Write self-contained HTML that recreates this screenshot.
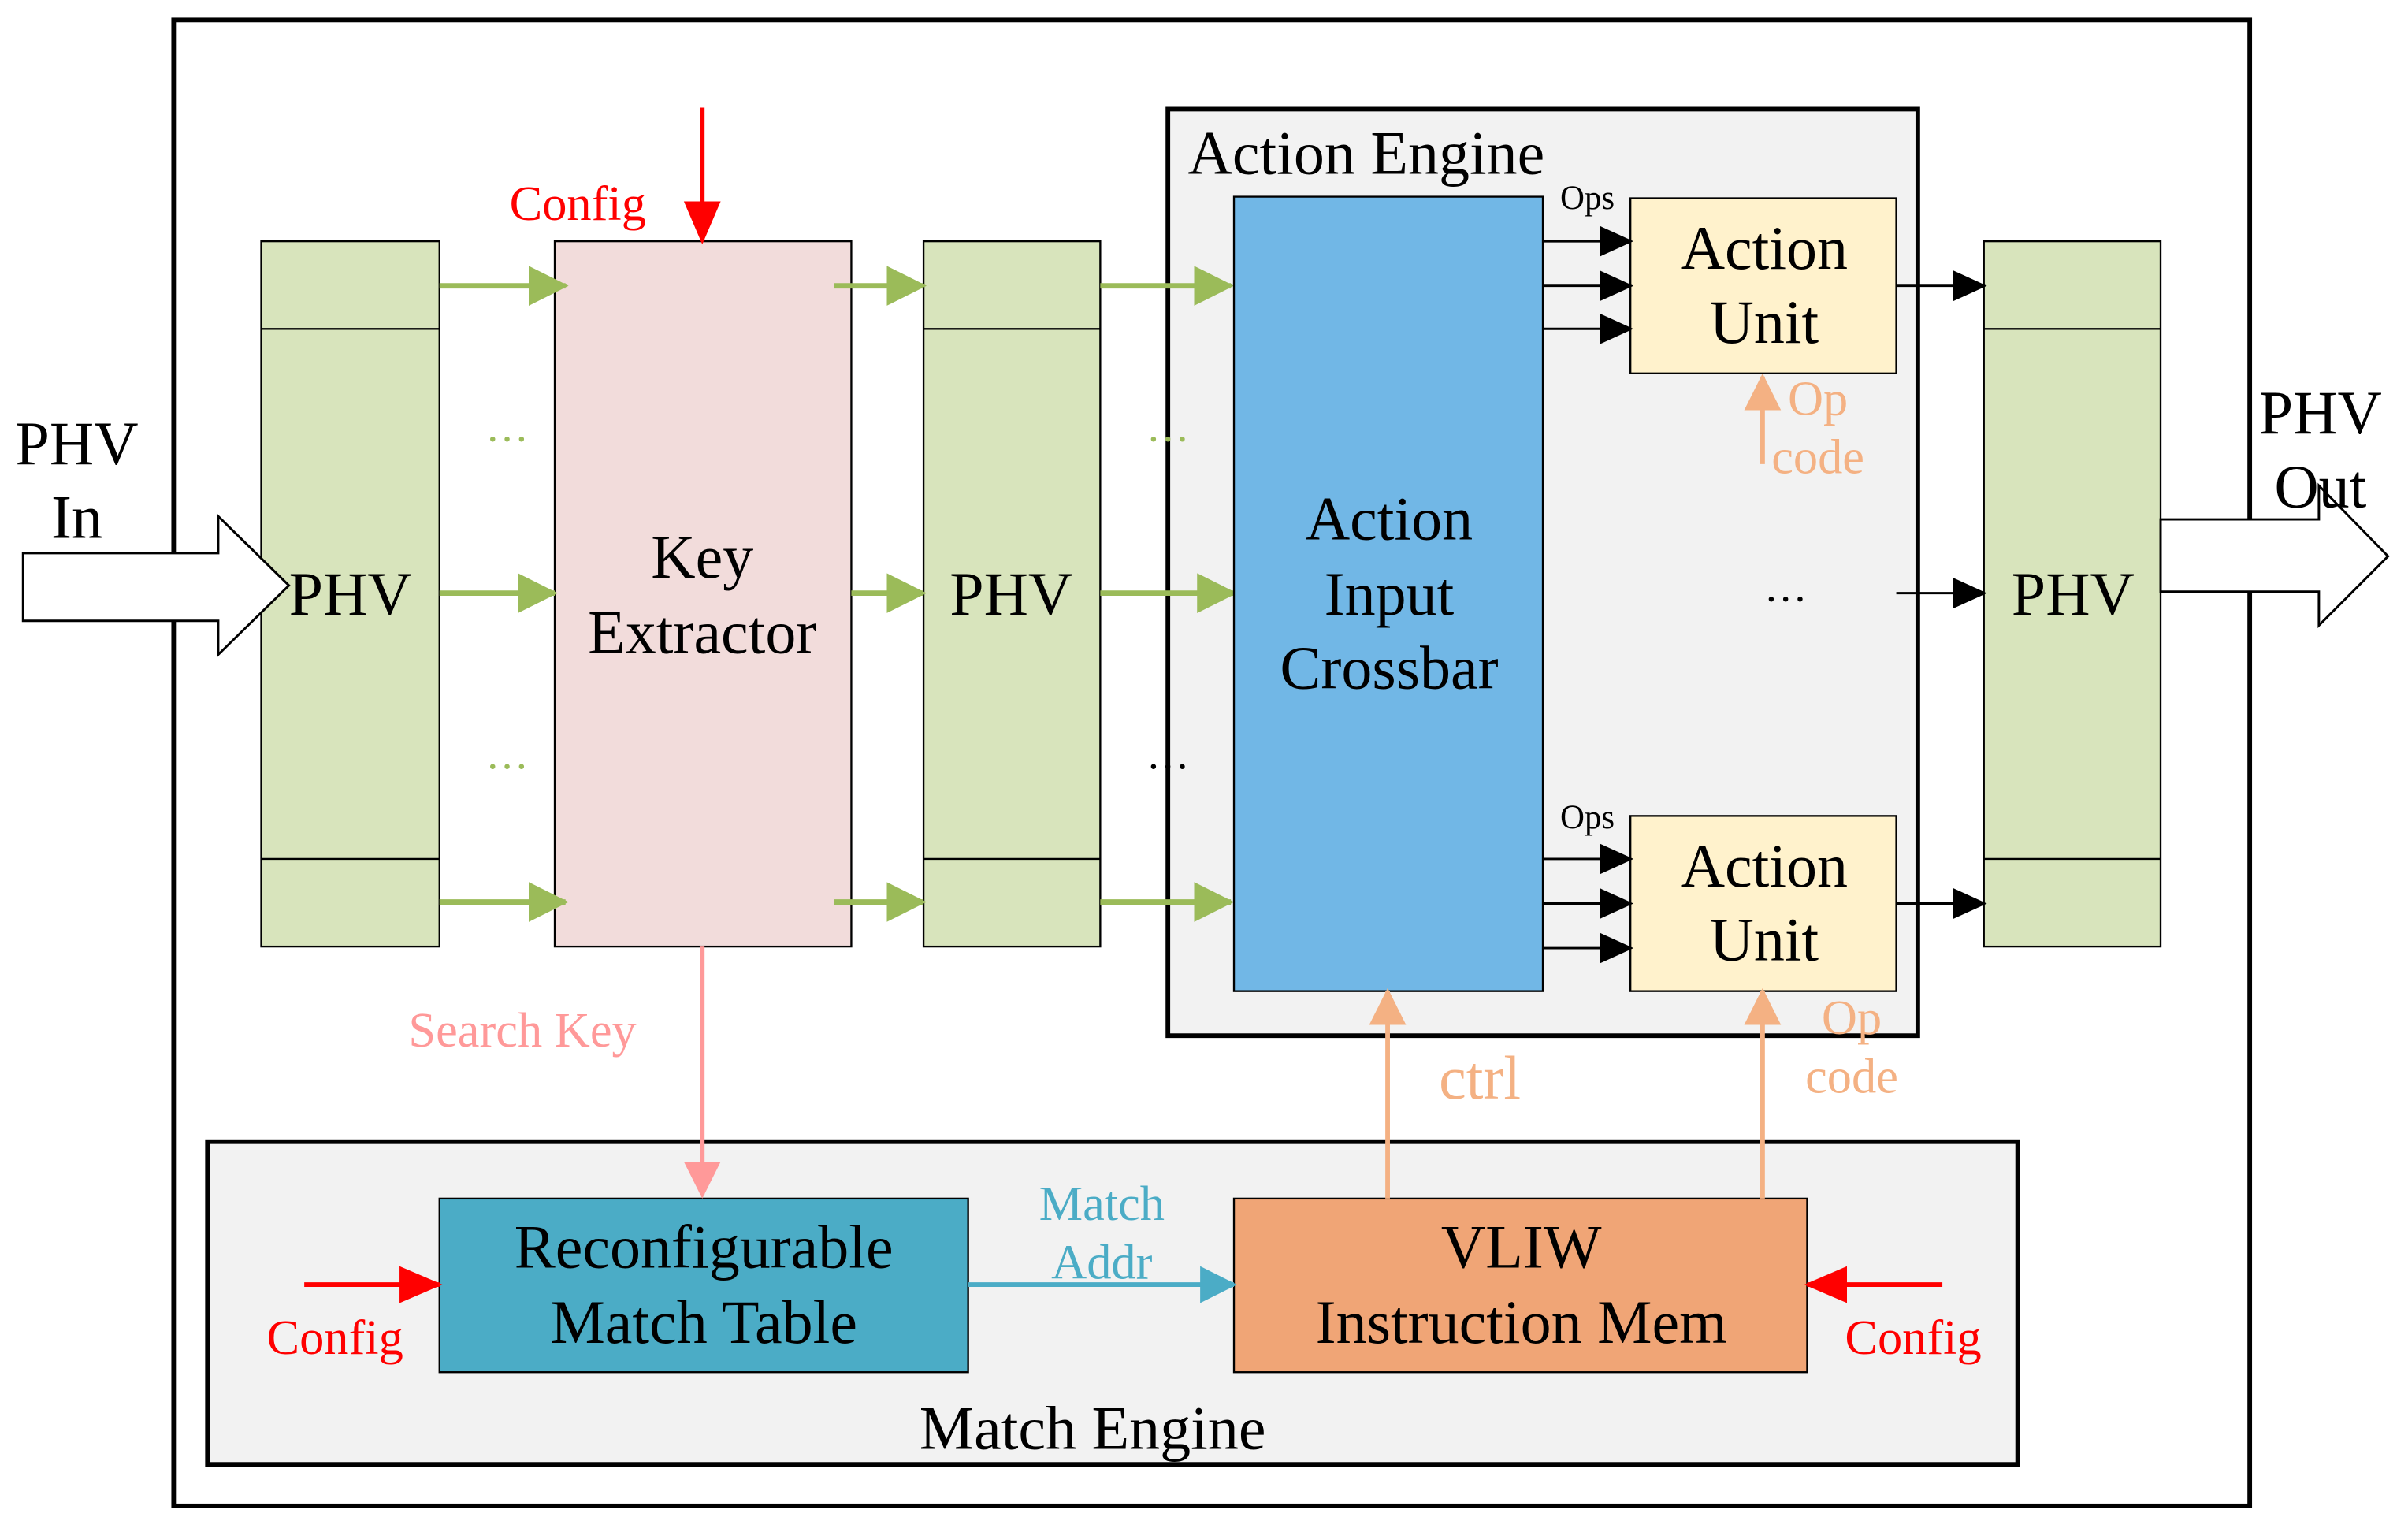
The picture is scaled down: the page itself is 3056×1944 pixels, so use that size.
<!DOCTYPE html>
<html><head><meta charset="utf-8"><style>html,body{margin:0;padding:0;background:#fff}svg{display:block}</style></head>
<body>
<svg width="3056" height="1944" viewBox="0 0 1567 997" preserveAspectRatio="none" xmlns="http://www.w3.org/2000/svg" font-family="Liberation Serif, serif">
<defs>
<marker id="ab" markerWidth="22" markerHeight="22" refX="20" refY="11" orient="auto" markerUnits="userSpaceOnUse"><path d="M0,1 L22,11 L0,21z" fill="#000"/></marker>
<marker id="ar" markerWidth="28" markerHeight="28" refX="26" refY="14" orient="auto" markerUnits="userSpaceOnUse"><path d="M0,2 L28,14 L0,26z" fill="#f00"/></marker>
<marker id="ap" markerWidth="24" markerHeight="24" refX="22" refY="12" orient="auto" markerUnits="userSpaceOnUse"><path d="M0,0 L24,12 L0,24z" fill="#ff9999"/></marker>
<marker id="ao" markerWidth="24" markerHeight="24" refX="22" refY="12" orient="auto" markerUnits="userSpaceOnUse"><path d="M0,0 L24,12 L0,24z" fill="#f4b183"/></marker>
<marker id="ac" markerWidth="24" markerHeight="24" refX="22" refY="12" orient="auto" markerUnits="userSpaceOnUse"><path d="M0,0 L24,12 L0,24z" fill="#4bacc6"/></marker>
<marker id="agg" markerWidth="26" markerHeight="26" refX="24" refY="13" orient="auto" markerUnits="userSpaceOnUse"><path d="M0,0 L26,13 L0,26z" fill="#9bbb59"/></marker>
</defs>
<rect x="113" y="13" width="1351" height="967" fill="#fff" stroke="#000" stroke-width="3"/>
<g stroke="#000" stroke-width="1.2" fill="#d8e4bc">
<rect x="170" y="157" width="116" height="459"/><line x1="170" y1="214" x2="286" y2="214"/><line x1="170" y1="559" x2="286" y2="559"/>
<rect x="601" y="157" width="115" height="459"/><line x1="601" y1="214" x2="716" y2="214"/><line x1="601" y1="559" x2="716" y2="559"/>
<rect x="1291" y="157" width="115" height="459"/><line x1="1291" y1="214" x2="1406" y2="214"/><line x1="1291" y1="559" x2="1406" y2="559"/>
</g>
<polygon points="15,360 142,360 142,336 188,381 142,426 142,404 15,404" fill="#fff" stroke="#000" stroke-width="1.5"/>
<text x="50" y="302" font-size="40" text-anchor="middle">PHV</text>
<text x="50" y="350" font-size="40" text-anchor="middle">In</text>
<text x="228" y="400" font-size="40" text-anchor="middle">PHV</text>
<text x="658" y="400" font-size="40" text-anchor="middle">PHV</text>
<text x="1349" y="400" font-size="40" text-anchor="middle">PHV</text>
<rect x="361" y="157" width="193" height="459" fill="#f2dcdb" stroke="#000" stroke-width="1.2"/>
<text x="457" y="376" font-size="40" text-anchor="middle">Key</text>
<text x="457" y="425" font-size="40" text-anchor="middle">Extractor</text>
<line x1="457" y1="70" x2="457" y2="157" stroke="#f00" stroke-width="3" marker-end="url(#ar)"/>
<text x="376" y="143" font-size="32" fill="#f00" text-anchor="middle">Config</text>
<rect x="760" y="71" width="488" height="603" fill="#f2f2f2" stroke="#000" stroke-width="3"/>
<text x="773" y="113" font-size="40">Action Engine</text>
<g stroke="#9bbb59" stroke-width="3.5">
<line x1="286" y1="186" x2="368" y2="186" marker-end="url(#agg)"/>
<line x1="286" y1="386" x2="361" y2="386" marker-end="url(#agg)"/>
<line x1="286" y1="587" x2="368" y2="587" marker-end="url(#agg)"/>
<line x1="543" y1="186" x2="601" y2="186" marker-end="url(#agg)"/>
<line x1="554" y1="386" x2="601" y2="386" marker-end="url(#agg)"/>
<line x1="543" y1="587" x2="601" y2="587" marker-end="url(#agg)"/>
<line x1="716" y1="186" x2="801" y2="186" marker-end="url(#agg)"/>
<line x1="716" y1="386" x2="803" y2="386" marker-end="url(#agg)"/>
<line x1="716" y1="587" x2="801" y2="587" marker-end="url(#agg)"/>
</g>
<text x="330" y="287" font-size="28" fill="#9bbb59" text-anchor="middle">…</text>
<text x="330" y="500" font-size="28" fill="#9bbb59" text-anchor="middle">…</text>
<text x="760" y="287" font-size="28" fill="#9bbb59" text-anchor="middle">…</text>
<text x="760" y="500" font-size="28" text-anchor="middle">…</text>
<rect x="803" y="128" width="201" height="517" fill="#71b7e6" stroke="#000" stroke-width="1.2"/>
<text x="904" y="351" font-size="40" text-anchor="middle">Action</text>
<text x="904" y="400" font-size="40" text-anchor="middle">Input</text>
<text x="904" y="448" font-size="40" text-anchor="middle">Crossbar</text>
<rect x="1061" y="129" width="173" height="114" fill="#fff2cc" stroke="#000" stroke-width="1.2"/>
<text x="1148" y="175" font-size="40" text-anchor="middle">Action</text>
<text x="1148" y="223" font-size="40" text-anchor="middle">Unit</text>
<rect x="1061" y="531" width="173" height="114" fill="#fff2cc" stroke="#000" stroke-width="1.2"/>
<text x="1148" y="577" font-size="40" text-anchor="middle">Action</text>
<text x="1148" y="625" font-size="40" text-anchor="middle">Unit</text>
<g stroke="#000" stroke-width="1.5">
<line x1="1004" y1="157" x2="1061" y2="157" marker-end="url(#ab)"/>
<line x1="1004" y1="186" x2="1061" y2="186" marker-end="url(#ab)"/>
<line x1="1004" y1="214" x2="1061" y2="214" marker-end="url(#ab)"/>
<line x1="1004" y1="559" x2="1061" y2="559" marker-end="url(#ab)"/>
<line x1="1004" y1="588" x2="1061" y2="588" marker-end="url(#ab)"/>
<line x1="1004" y1="617" x2="1061" y2="617" marker-end="url(#ab)"/>
<line x1="1234" y1="186" x2="1291" y2="186" marker-end="url(#ab)"/>
<line x1="1234" y1="386" x2="1291" y2="386" marker-end="url(#ab)"/>
<line x1="1234" y1="588" x2="1291" y2="588" marker-end="url(#ab)"/>
</g>
<text x="1033" y="136" font-size="22" text-anchor="middle">Ops</text>
<text x="1033" y="539" font-size="22" text-anchor="middle">Ops</text>
<text x="1162" y="391" font-size="28" text-anchor="middle">…</text>
<line x1="1147" y1="302" x2="1147" y2="245" stroke="#f4b183" stroke-width="3" marker-end="url(#ao)"/>
<text x="1183" y="270" font-size="32" fill="#f4b183" text-anchor="middle">Op</text>
<text x="1183" y="308" font-size="32" fill="#f4b183" text-anchor="middle">code</text>
<polygon points="1406,338 1509,338 1509,316 1554,362 1509,407 1509,385 1406,385" fill="#fff" stroke="#000" stroke-width="1.5"/>
<text x="1510" y="282" font-size="40" text-anchor="middle">PHV</text>
<text x="1510" y="330" font-size="40" text-anchor="middle">Out</text>
<rect x="135" y="743" width="1178" height="210" fill="#f2f2f2" stroke="#000" stroke-width="3"/>
<text x="711" y="943" font-size="40" text-anchor="middle">Match Engine</text>
<rect x="286" y="780" width="344" height="113" fill="#4bacc6" stroke="#000" stroke-width="1.2"/>
<text x="458" y="825" font-size="40" text-anchor="middle">Reconfigurable</text>
<text x="458" y="874" font-size="40" text-anchor="middle">Match Table</text>
<rect x="803" y="780" width="373" height="113" fill="#f0a576" stroke="#000" stroke-width="1.2"/>
<text x="990" y="825" font-size="40" text-anchor="middle">VLIW</text>
<text x="990" y="874" font-size="40" text-anchor="middle">Instruction Mem</text>
<line x1="457" y1="616" x2="457" y2="778" stroke="#ff9999" stroke-width="3" marker-end="url(#ap)"/>
<text x="340" y="681" font-size="32" fill="#ff9999" text-anchor="middle">Search Key</text>
<line x1="630" y1="836" x2="803" y2="836" stroke="#4bacc6" stroke-width="3" marker-end="url(#ac)"/>
<text x="717" y="794" font-size="32" fill="#4bacc6" text-anchor="middle">Match</text>
<text x="717" y="832" font-size="32" fill="#4bacc6" text-anchor="middle">Addr</text>
<line x1="903" y1="780" x2="903" y2="645" stroke="#f4b183" stroke-width="3" marker-end="url(#ao)"/>
<text x="963" y="715" font-size="40" fill="#f4b183" text-anchor="middle">ctrl</text>
<line x1="1147" y1="780" x2="1147" y2="645" stroke="#f4b183" stroke-width="3" marker-end="url(#ao)"/>
<text x="1205" y="673" font-size="32" fill="#f4b183" text-anchor="middle">Op</text>
<text x="1205" y="711" font-size="32" fill="#f4b183" text-anchor="middle">code</text>
<line x1="198" y1="836" x2="286" y2="836" stroke="#f00" stroke-width="3" marker-end="url(#ar)"/>
<text x="218" y="881" font-size="32" fill="#f00" text-anchor="middle">Config</text>
<line x1="1264" y1="836" x2="1176" y2="836" stroke="#f00" stroke-width="3" marker-end="url(#ar)"/>
<text x="1245" y="881" font-size="32" fill="#f00" text-anchor="middle">Config</text>
</svg>
</body></html>
